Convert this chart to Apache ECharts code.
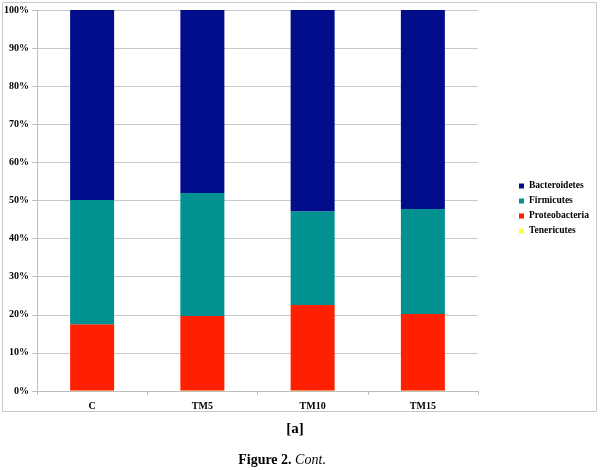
<!DOCTYPE html>
<html>
<head>
<meta charset="utf-8">
<script src="https://cdn.jsdelivr.net/npm/echarts@6/dist/echarts.min.js"></script>
<style>html,body{margin:0;padding:0;background:#fff;}#c{width:600px;height:470px;}</style>
</head>
<body>
<div id="c"></div>
<script>
var categories = ['C', 'TM5', 'TM10', 'TM15'];
var tenericutes = [0.1, 0.1, 0.1, 0.1];
var proteobacteria = [17.4, 19.6, 22.5, 20.1];
var firmicutes = [32.6, 32.3, 24.6, 27.6];
var bacteroidetes = [49.9, 48.0, 52.8, 52.2];
var yTicks = [0, 10, 20, 30, 40, 50, 60, 70, 80, 90, 100];

var font = 'Liberation Serif';
var chart = echarts.init(document.getElementById('c'), null, {renderer: 'canvas'});
function ser(name, data, color) {
  return {name: name, type: 'bar', stack: 'a', data: data, barWidth: 44,
    itemStyle: {color: color}, emphasis: {disabled: true}};
}
chart.setOption({
  animation: false,
  grid: {left: 37, right: 122, top: 10, bottom: 79},
  legend: {
    orient: 'vertical', left: 519, top: 181, itemWidth: 5, itemHeight: 5, itemGap: 5,
    icon: 'rect', padding: 0,
    data: ['Bacteroidetes', 'Firmicutes', 'Proteobacteria', 'Tenericutes'],
    textStyle: {fontFamily: font, fontWeight: 'bold', fontSize: 9.5, color: '#000', lineHeight: 10}
  },
  xAxis: {
    type: 'category', data: categories,
    axisLine: {lineStyle: {color: '#bdbdbd'}},
    axisTick: {show: true, length: 4, lineStyle: {color: '#bdbdbd'}},
    axisLabel: {fontFamily: font, fontWeight: 'bold', fontSize: 10, color: '#000', margin: 10}
  },
  yAxis: {
    type: 'value', min: 0, max: 100, interval: 10,
    axisLine: {show: true, lineStyle: {color: '#bdbdbd'}},
    axisTick: {show: true, length: 5, lineStyle: {color: '#bdbdbd'}},
    splitLine: {lineStyle: {color: '#c8c8c8'}},
    axisLabel: {fontFamily: font, fontWeight: 'bold', fontSize: 10, color: '#000', margin: 8,
      formatter: function (v) { return yTicks.indexOf(v) >= 0 ? v + '%' : ''; }}
  },
  graphic: [
    {type: 'rect', shape: {x: 2.5, y: 2.5, width: 594, height: 409}, style: {fill: 'none', stroke: '#c8c8c8', lineWidth: 1}, silent: true},
    {type: 'text', x: 295, y: 429, style: {text: '[a]', font: 'bold 15px "Liberation Serif"', fill: '#000', align: 'center', verticalAlign: 'middle'}},
    {type: 'text', x: 282, y: 460, style: {
      text: '{b|Figure 2. }{i|Cont}{n|.}', align: 'center', verticalAlign: 'middle',
      rich: {
        b: {font: 'bold 14px "Liberation Serif"', fill: '#000'},
        i: {font: 'italic 14px "Liberation Serif"', fill: '#000'},
        n: {font: '14px "Liberation Serif"', fill: '#000'}
      }}}
  ],
  series: [
    ser('Tenericutes', tenericutes, '#ffff40'),
    ser('Proteobacteria', proteobacteria, '#ff2000'),
    ser('Firmicutes', firmicutes, '#009190'),
    ser('Bacteroidetes', bacteroidetes, '#020d8c')
  ]
});
</script>
</body>
</html>
